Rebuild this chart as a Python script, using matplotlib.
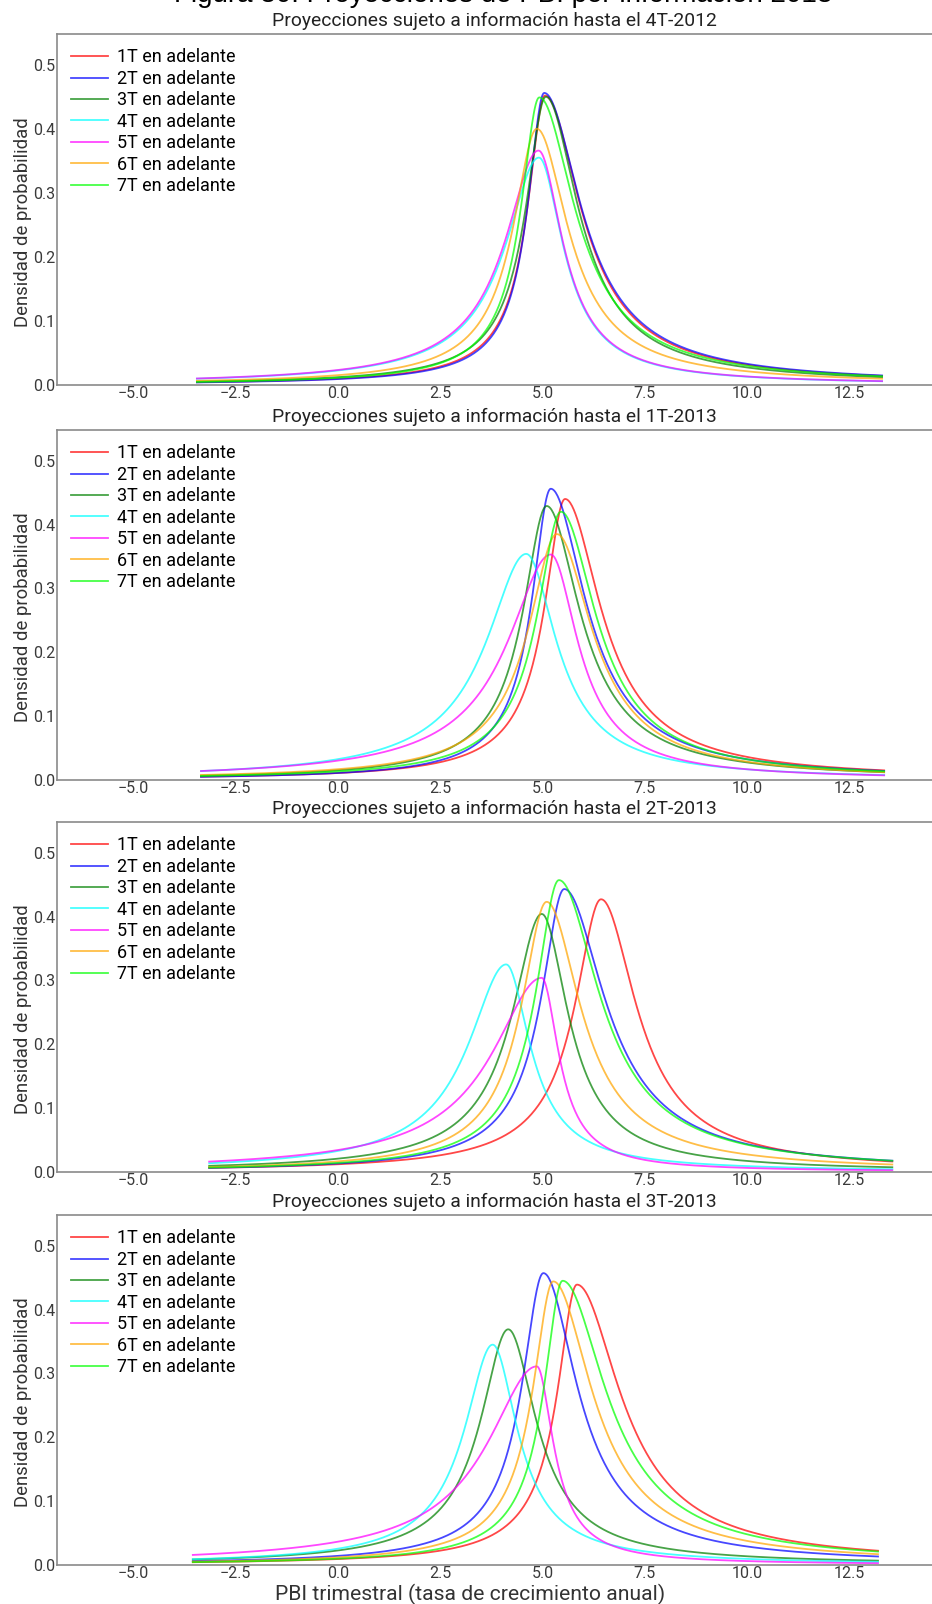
import numpy as np
import matplotlib
matplotlib.use("Agg")
import matplotlib.pyplot as plt

plt.rcParams['font.family'] = ['Roboto', 'DejaVu Sans']

# ---------------- data ----------------
panel_titles = [
    "Proyecciones sujeto a información hasta el 4T-2012",
    "Proyecciones sujeto a información hasta el 1T-2013",
    "Proyecciones sujeto a información hasta el 2T-2013",
    "Proyecciones sujeto a información hasta el 3T-2013",
]
series_labels = ["1T en adelante", "2T en adelante", "3T en adelante", "4T en adelante",
                 "5T en adelante", "6T en adelante", "7T en adelante"]
series_colors = ["red", "blue", "green", "cyan", "magenta", "orange", "lime"]

# support of each panel's curves (start / end of the drawn densities)
x_start = [-3.45, -3.35, -3.15, -3.55]
x_end = [13.3, 13.35, 13.55, 13.2]

# mode (PBI growth at the peak), peak density, left / right half-width at half maximum
modes_4T2012 = [5.06, 5.04, 5.08, 4.91, 4.90, 4.86, 4.92]
peaks_4T2012 = [0.452, 0.456, 0.450, 0.355, 0.366, 0.400, 0.449]
left_hw_4T2012 = [0.55, 0.52, 0.63, 1.05, 1.05, 0.75, 0.58]
right_hw_4T2012 = [1.12, 1.15, 1.02, 0.76, 0.76, 0.98, 1.12]

modes_1T2013 = [5.55, 5.20, 5.10, 4.60, 5.20, 5.35, 5.45]
peaks_1T2013 = [0.440, 0.456, 0.429, 0.354, 0.353, 0.385, 0.420]
left_hw_1T2013 = [0.65, 0.60, 0.75, 1.25, 1.35, 0.90, 0.75]
right_hw_1T2013 = [1.12, 1.10, 1.05, 0.95, 0.85, 1.10, 1.10]

modes_2T2013 = [6.43, 5.53, 4.98, 4.11, 4.98, 5.10, 5.40]
peaks_2T2013 = [0.427, 0.443, 0.404, 0.325, 0.304, 0.423, 0.457]
left_hw_2T2013 = [0.82, 0.73, 0.93, 1.19, 1.55, 0.80, 0.73]
right_hw_2T2013 = [1.10, 1.27, 0.83, 0.75, 0.53, 1.06, 1.26]

modes_3T2013 = [5.84, 5.02, 4.16, 3.78, 4.86, 5.26, 5.49]
peaks_3T2013 = [0.439, 0.457, 0.369, 0.345, 0.311, 0.444, 0.445]
left_hw_3T2013 = [0.62, 0.68, 0.87, 0.89, 1.55, 0.65, 0.60]
right_hw_3T2013 = [1.36, 1.06, 0.88, 0.78, 0.52, 1.22, 1.36]

x_ticks = [-5.0, -2.5, 0.0, 2.5, 5.0, 7.5, 10.0, 12.5]
y_ticks = [0.0, 0.1, 0.2, 0.3, 0.4, 0.5]

panels = [
    (modes_4T2012, peaks_4T2012, left_hw_4T2012, right_hw_4T2012),
    (modes_1T2013, peaks_1T2013, left_hw_1T2013, right_hw_1T2013),
    (modes_2T2013, peaks_2T2013, left_hw_2T2013, right_hw_2T2013),
    (modes_3T2013, peaks_3T2013, left_hw_3T2013, right_hw_3T2013),
]

TAIL_POWER = 0.8


def density(x, mode, peak, hw_left, hw_right, k=TAIL_POWER):
    c = np.sqrt(2.0 ** (1.0 / k) - 1.0)
    g = np.where(x < mode, hw_left, hw_right) / c
    return peak * (1.0 + ((x - mode) / g) ** 2) ** (-k)


# ---------------- figure ----------------
W, H = 932, 1604
fig = plt.figure(figsize=(W / 100, H / 100), dpi=100)

# pixel geometry of the axes boxes (top, bottom)
boxes = [(34, 385), (430, 780), (822, 1172), (1215, 1565)]
left_px = 57

# figure heading, cut by the upper edge in the reference
fig.text(0.54, 1 - 1.5 / H, "Figura 30: Proyecciones de PBI por información 2013",
         ha="center", va="baseline", fontsize=20, family=["Liberation Sans", "DejaVu Sans"],
         color="black")

for i, (top, bot) in enumerate(boxes):
    ax = fig.add_axes([left_px / W, 1 - bot / H, (W - left_px) / W, (bot - top) / H])
    modes, peaks, lhw, rhw = panels[i]
    xs = np.linspace(x_start[i], x_end[i], 800)
    for j in range(len(series_labels)):
        ax.plot(xs, density(xs, modes[j], peaks[j], lhw[j], rhw[j]),
                color=series_colors[j], alpha=0.72, lw=1.3, label=series_labels[j])
    ax.set_xlim(-6.87, 14.52)
    ax.set_ylim(0, 0.548)
    ax.set_xticks(x_ticks)
    ax.set_xticklabels([f"{t:.1f}".replace("-", "\u2212") for t in x_ticks])
    ax.set_yticks(y_ticks)
    ax.set_yticklabels([f"{t:.1f}" for t in y_ticks])
    ax.tick_params(length=0, labelsize=11.5, colors="#3a3a3a", pad=1)
    for s in ["left", "top", "bottom"]:
        ax.spines[s].set_color("#8a8a8a")
        ax.spines[s].set_linewidth(1.2)
    ax.spines["right"].set_visible(False)
    ax.set_title(panel_titles[i], fontsize=13.9, color="#222222", pad=6)
    ax.set_ylabel("Densidad de probabilidad", fontsize=13.3, color="#333333")
    ax.yaxis.set_label_coords(-0.029, 0.465)
    ax.legend(loc="upper left", frameon=False, fontsize=13, handlelength=2.0,
              handletextpad=0.55, labelspacing=0.19, borderaxespad=0.35, borderpad=0.45)
    if i == 3:
        ax.set_xlabel("PBI trimestral (tasa de crecimiento anual)", fontsize=15.2,
                      color="#333333", labelpad=0)
        ax.xaxis.set_label_coords(0.472, -0.055)

fig.savefig("out.png", dpi=100)
